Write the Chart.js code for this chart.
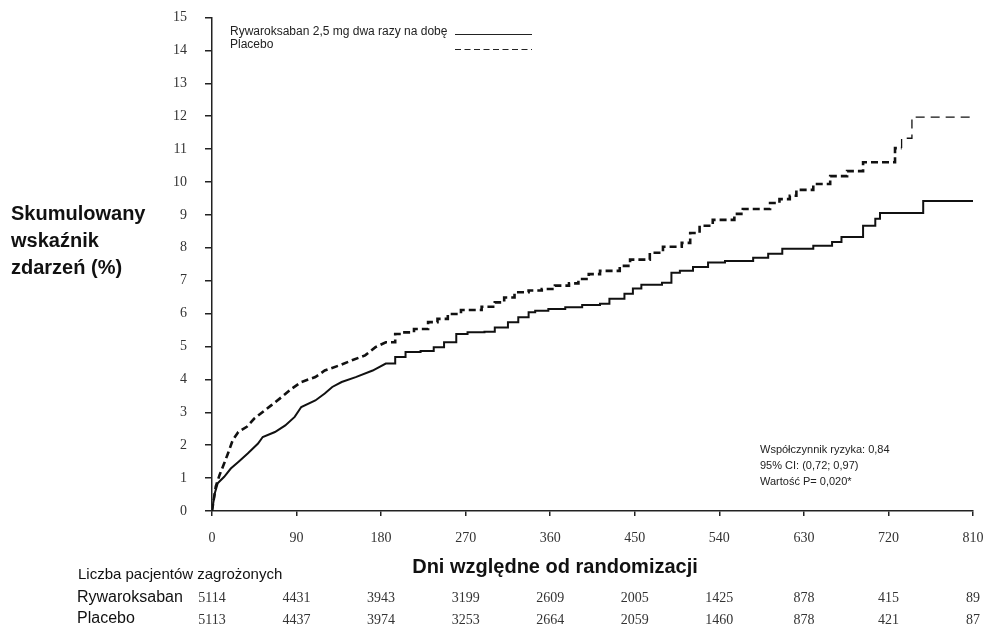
<!DOCTYPE html>
<html>
<head>
<meta charset="utf-8">
<script src="https://cdn.jsdelivr.net/npm/chart.js@4"></script>
<style>
  html, body { margin: 0; padding: 0; background: #fff; }
  #wrap { width: 987px; height: 626px; }
</style>
</head>
<body>
<div id="wrap"><canvas id="kmChart" width="987" height="626"></canvas></div>
<script>
// dni od randomizacji / skumulowany wskaznik (%)
var rivaDays = [0, 3, 6, 13, 20, 28, 38, 49, 54, 67, 78, 88, 95, 110, 120, 128, 138, 153, 171, 185,
  195, 206, 222, 236, 247, 260, 272, 290, 301, 315, 326, 337, 344, 358, 376, 394, 413, 423, 439, 448,
  457, 479, 489, 498, 512, 528, 546, 576, 592, 607, 640, 660, 670, 693, 706, 711, 757, 810];
var rivaRates = [0, 0.54, 0.84, 1.04, 1.29, 1.49, 1.75, 2.05, 2.25, 2.4, 2.6, 2.86, 3.16, 3.36, 3.57, 3.77, 3.92, 4.07, 4.27, 4.48,
  4.68, 4.83, 4.86, 4.98, 5.13, 5.38, 5.43, 5.45, 5.58, 5.74, 5.89, 6.04, 6.09, 6.14, 6.19, 6.26, 6.30, 6.45, 6.6, 6.76,
  6.88, 6.94, 7.24, 7.3, 7.42, 7.55, 7.6, 7.7, 7.82, 7.97, 8.06, 8.18, 8.33, 8.67, 8.88, 9.06, 9.42, 9.42];

var placeboDays = [0, 4, 8, 13, 17, 22, 28, 37, 45, 54, 63, 74, 85, 95, 110, 120, 135, 149, 163, 174,
  185, 195, 201, 215, 230, 240, 251, 265, 287, 301, 311, 322, 337, 351, 365, 380, 390, 401, 413, 434,
  445, 466, 480, 500, 509, 519, 533, 556, 565, 594, 604, 615, 622, 640, 658, 676, 693, 727, 734, 745, 810];
var placeboRates = [0, 0.74, 1.09, 1.45, 1.75, 2.15, 2.4, 2.56, 2.81, 3.01, 3.21, 3.46, 3.72, 3.92, 4.07, 4.27, 4.42, 4.58, 4.73, 4.98,
  5.13, 5.38, 5.43, 5.53, 5.74, 5.84, 5.99, 6.11, 6.21, 6.34, 6.49, 6.65, 6.70, 6.75, 6.85, 6.92, 7.05, 7.2, 7.3, 7.45,
  7.64, 7.85, 8.03, 8.15, 8.45, 8.67, 8.85, 9.03, 9.18, 9.36, 9.48, 9.58, 9.76, 9.94, 10.18, 10.33, 10.6, 11.03, 11.33, 11.97, 11.97];

// liczba pacjentow zagrozonych
var atRiskDays = [0, 90, 180, 270, 360, 450, 540, 630, 720, 810];
var rivaAtRisk = [5114, 4431, 3943, 3199, 2609, 2005, 1425, 878, 415, 89];
var placeboAtRisk = [5113, 4437, 3974, 3253, 2664, 2059, 1460, 878, 421, 87];

var rivaLabel = 'Rywaroksaban 2,5 mg dwa razy na dobę';
var placeboLabel = 'Placebo';
var yTitle = ['Skumulowany', 'wskaźnik', 'zdarzeń (%)'];
var xTitle = 'Dni względne od randomizacji';
var statsText = ['Współczynnik ryzyka: 0,84', '95% CI: (0,72; 0,97)', 'Wartość P= 0,020*'];

// early part is dense (drawn straight), later part as KM steps
function toKM(xs, ys, stepFrom) {
  var pts = [];
  xs.forEach(function(x, i) {
    if (i > 0 && x >= stepFrom && ys[i] !== ys[i - 1]) pts.push({ x: x, y: ys[i - 1] });
    pts.push({ x: x, y: ys[i] });
  });
  return pts;
}

var SANS = 'Arial, "Liberation Sans", sans-serif';
var SERIF = '"Times New Roman", "Liberation Serif", serif';

var extras = {
  id: 'extras',
  afterDraw: function(chart) {
    var ctx = chart.ctx;
    var xs = chart.scales.x;
    ctx.save();
    ctx.fillStyle = '#111';

    // y title
    ctx.font = 'bold 20px ' + SANS;
    ctx.textAlign = 'left';
    ctx.textBaseline = 'middle';
    yTitle.forEach(function(t, i) { ctx.fillText(t, 11, 214 + i * 27); });

    // x title
    ctx.textAlign = 'center';
    ctx.fillText(xTitle, 555, 567);

    // legend
    ctx.font = '12px ' + SANS;
    ctx.textAlign = 'left';
    ctx.fillStyle = '#222';
    ctx.fillText(rivaLabel, 230, 32);
    ctx.fillText(placeboLabel, 230, 45);
    ctx.strokeStyle = '#222';
    ctx.lineWidth = 1.2;
    ctx.beginPath(); ctx.moveTo(455, 34.5); ctx.lineTo(532, 34.5); ctx.stroke();
    ctx.setLineDash([6, 3.5]);
    ctx.beginPath(); ctx.moveTo(455, 49.5); ctx.lineTo(532, 49.5); ctx.stroke();
    ctx.setLineDash([]);

    // stats
    ctx.font = '11px ' + SANS;
    statsText.forEach(function(t, i) { ctx.fillText(t, 760, 450 + i * 16); });

    // at risk table
    ctx.fillStyle = '#111';
    ctx.font = '15px ' + SANS;
    ctx.fillText('Liczba pacjentów zagrożonych', 78, 575);
    ctx.font = '16px ' + SANS;
    ctx.fillText('Rywaroksaban', 77, 598);
    ctx.fillText('Placebo', 77, 619);
    ctx.font = '14px ' + SERIF;
    ctx.textAlign = 'center';
    ctx.fillStyle = '#333';
    atRiskDays.forEach(function(d, i) {
      var px = xs.getPixelForValue(d);
      ctx.fillText(String(rivaAtRisk[i]), px, 598);
      ctx.fillText(String(placeboAtRisk[i]), px, 620);
    });
    ctx.restore();
  }
};

var ctx = document.getElementById('kmChart');
var myChart = new Chart(ctx, {
  type: 'line',
  data: {
    datasets: [
      {
        label: rivaLabel,
        data: toKM(rivaDays, rivaRates, 190),
        borderColor: '#111',
        borderWidth: 2,
        pointRadius: 0,
        tension: 0,
        fill: false
      },
      {
        label: placeboLabel,
        data: toKM(placeboDays, placeboRates, 190),
        borderColor: '#111',
        borderWidth: 2.6,
        borderDash: [7, 4],
        pointRadius: 0,
        tension: 0,
        fill: false,
        segment: {
          borderWidth: function(c) { return c.p0.parsed.x >= 734 ? 1.3 : undefined; },
          borderDash: function(c) { return c.p0.parsed.x >= 734 ? [9, 6] : undefined; }
        }
      }
    ]
  },
  options: {
    responsive: false,
    animation: false,
    devicePixelRatio: 1,
    layout: { padding: { top: 17.5, right: 14, bottom: 0, left: 0 } },
    plugins: {
      legend: { display: false },
      tooltip: { enabled: false }
    },
    scales: {
      x: {
        type: 'linear',
        min: 0,
        max: 810,
        afterFit: function(s) { s.height = 115; s.paddingLeft = 0; s.paddingRight = 0; },
        ticks: {
          stepSize: 90,
          padding: 14,
          color: '#333',
          font: { family: SERIF, size: 14 }
        },
        grid: { drawOnChartArea: false, drawTicks: true, tickLength: 5, color: '#222', lineWidth: 1.5 },
        border: { color: '#222', width: 1.5 }
      },
      y: {
        type: 'linear',
        min: 0,
        max: 15,
        afterFit: function(s) { s.width = 212; s.paddingTop = 0; s.paddingBottom = 0; },
        ticks: {
          stepSize: 1,
          padding: 18,
          color: '#333',
          font: { family: SERIF, size: 14 }
        },
        grid: { drawOnChartArea: false, drawTicks: true, tickLength: 7, color: '#222', lineWidth: 1.5 },
        border: { color: '#222', width: 1.5 }
      }
    }
  },
  plugins: [extras]
});
</script>
</body>
</html>
